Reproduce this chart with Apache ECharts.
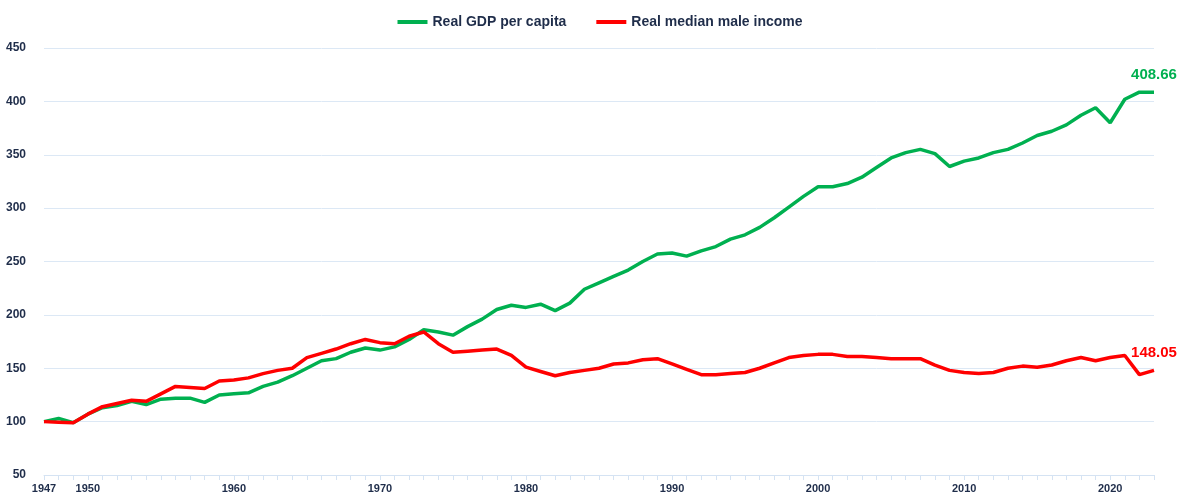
<!DOCTYPE html>
<html><head><meta charset="utf-8">
<script src="https://cdn.jsdelivr.net/npm/echarts@6/dist/echarts.min.js"></script>
<style>html,body{margin:0;background:#fff}#c{width:1200px;height:502px}</style>
</head><body><div id="c"></div>
<script>
const years = [];
for (let y = 1947; y <= 2023; y++) years.push(String(y));
const gdp = [100,103,99,107,113,115,119,116,121,122,122,118,125,126,127,133,137,143,150,157,159,165,169,167,170,177,186,184,181,189,196,205,209,207,210,204,211,224,230,236,242,250,257,258,255,260,264,271,275,282,291,301,311,320,320,323,329,338,347,352,355,351,339,344,347,352,355,361,368,372,378,387,394,380,402,408.66,408.66];
const income = [100,99.5,99,107,114,117,120,119,126,133,132,131,138,139,141,145,148,150,160,164,168,173,177,174,173,180,184,173,165,166,167,168,162,151,147,143,146,148,150,154,155,158,159,154,149,144,144,145,146,150,155,160,162,163,163,161,161,160,159,159,159,153,148,146,145,146,150,152,151,153,157,160,157,160,162,144,148.05];
const shownLabels = ['1947','1950','1960','1970','1980','1990','2000','2010','2020'];
function mkSeries(name, arr, color){
  const last = arr.length-1;
  return {name:name,type:'line',data:arr,symbol:'circle',symbolSize:0,showSymbol:true,
    lineStyle:{width:3.5,color:color},itemStyle:{color:color},
    label:{show:true,position:'top',distance:10,color:color,fontSize:15,fontWeight:'bold',fontFamily:'Liberation Sans',
      formatter:p=> p.dataIndex===last ? arr[last].toFixed(2) : ''},
    labelLayout:{hideOverlap:false}};
}
const chart = echarts.init(document.getElementById('c'));
chart.setOption({
  animation:false,
  legend:{top:10,left:'center',itemWidth:30,itemHeight:4,itemGap:30,icon:'rect',
    textStyle:{color:'#1f2d4a',fontSize:14,fontWeight:'bold',fontFamily:'Liberation Sans'}},
  grid:{left:44,right:46,top:48,bottom:27},
  xAxis:{type:'category',data:years,boundaryGap:false,
    axisLine:{lineStyle:{color:'#d5e3f3'}},
    axisTick:{show:true,interval:0,lineStyle:{color:'#d5e3f3'}},
    axisLabel:{interval:0,formatter:v=>shownLabels.includes(v)?v:'',color:'#1f2d4a',fontSize:11,fontWeight:'bold',fontFamily:'Liberation Sans'}},
  yAxis:{type:'value',min:50,max:450,interval:50,
    axisLabel:{color:'#1f2d4a',fontSize:12,fontWeight:'bold',fontFamily:'Liberation Sans',margin:18},
    splitLine:{lineStyle:{color:'#dce8f5'}}},
  series:[
    mkSeries('Real GDP per capita',gdp,'#00b050'),
    mkSeries('Real median male income',income,'#ff0000')
  ]
});
</script></body></html>
